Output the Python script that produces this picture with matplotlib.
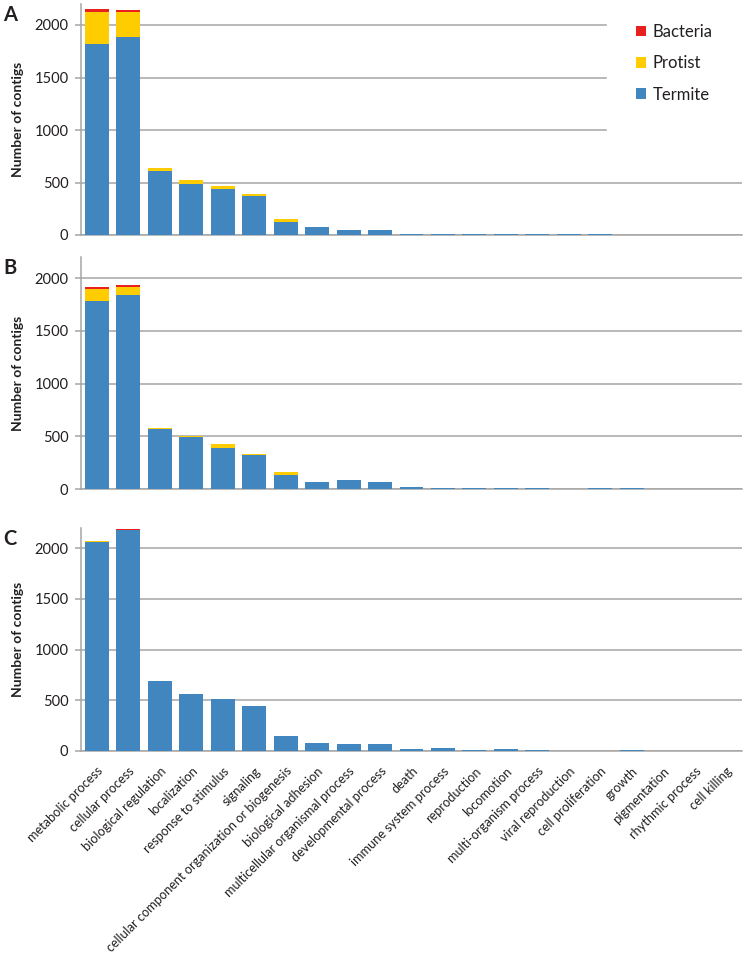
import matplotlib
matplotlib.use("Agg")
import matplotlib.pyplot as plt
import numpy as np

plt.rcParams['font.family'] = ['Lato', 'DejaVu Sans']

categories = ['metabolic process', 'cellular process', 'biological regulation', 'localization',
              'response to stimulus', 'signaling', 'cellular component organization or biogenesis',
              'biological adhesion', 'multicellular organismal process', 'developmental process',
              'death', 'immune system process', 'reproduction', 'locomotion', 'multi-organism process',
              'viral reproduction', 'cell proliferation', 'growth', 'pigmentation', 'rhythmic process',
              'cell killing']

series_names = ['Termite', 'Protist', 'Bacteria']

a_termite = [1820, 1885, 610, 490, 434, 374, 120, 76, 51, 44, 12, 9, 9, 8, 8, 6, 5, 4, 2, 2, 1]
a_protist = [305, 237, 25, 32, 35, 15, 35, 0, 0, 0, 0, 0, 0, 2, 0, 0, 0, 0, 0, 0, 0]
a_bacteria = [30, 22, 0, 0, 0, 0, 0, 0, 0, 0, 0, 0, 0, 0, 0, 0, 0, 0, 0, 0, 0]

b_termite = [1785, 1840, 565, 495, 391, 325, 136, 63, 82, 66, 22, 13, 10, 13, 10, 0, 13, 6, 0, 0, 0]
b_protist = [110, 78, 12, 5, 32, 6, 22, 0, 0, 0, 0, 0, 0, 0, 0, 0, 0, 0, 0, 0, 0]
b_bacteria = [25, 15, 0, 2, 0, 0, 0, 0, 0, 0, 0, 0, 0, 0, 0, 0, 0, 0, 0, 0, 0]

c_termite = [2065, 2180, 693, 565, 516, 443, 144, 82, 72, 66, 20, 26, 10, 16, 6, 0, 2, 5, 0, 0, 0]
c_protist = [5, 5, 0, 0, 0, 0, 0, 0, 0, 0, 0, 0, 0, 0, 0, 0, 0, 0, 0, 0, 0]
c_bacteria = [3, 3, 0, 0, 0, 0, 0, 0, 0, 0, 0, 0, 0, 0, 0, 0, 0, 0, 0, 0, 0]

panels = [('A', a_termite, a_protist, a_bacteria),
          ('B', b_termite, b_protist, b_bacteria),
          ('C', c_termite, c_protist, c_bacteria)]

colors = {'Termite': '#4186BF', 'Protist': '#FFCC00', 'Bacteria': '#E8201E'}
grid_color = '#A6A6A6'
text_color = '#231F20'

W, H = 751, 959
fig = plt.figure(figsize=(W / 100, H / 100), dpi=100)

# axes boxes in pixels: (left, top, right, bottom)
boxes = [(81, 4, 742, 235), (81, 257, 742, 489), (81, 528, 742, 751)]

x = np.arange(len(categories))
for i, ((letter, ter, pro, bac), (l, t, r, b)) in enumerate(zip(panels, boxes)):
    ax = fig.add_axes([l / W, 1 - b / H, (r - l) / W, (b - t) / H])
    ter = np.array(ter, float)
    pro = np.array(pro, float)
    bac = np.array(bac, float)
    h1 = ax.bar(x, ter, width=0.76, color=colors['Termite'], zorder=3, label='Termite')
    h2 = ax.bar(x, pro, bottom=ter, width=0.76, color=colors['Protist'], zorder=3, label='Protist')
    h3 = ax.bar(x, bac, bottom=ter + pro, width=0.76, color=colors['Bacteria'], zorder=3, label='Bacteria')
    ax.set_xlim(-0.5, len(categories) - 0.5)
    ax.set_ylim(0, 2200)
    ax.set_yticks([0, 500, 1000, 1500, 2000])
    ax.yaxis.grid(True, color=grid_color, linewidth=1.1, zorder=0)
    ax.set_axisbelow(True)
    for s in ['top', 'right']:
        ax.spines[s].set_visible(False)
    ax.spines['left'].set_color(grid_color)
    ax.spines['bottom'].set_color(grid_color)
    ax.spines['left'].set_linewidth(1.1)
    ax.spines['bottom'].set_linewidth(1.1)
    ax.tick_params(axis='y', length=4, color=grid_color, width=1.1, labelsize=10.5,
                   labelcolor=text_color, pad=5)
    ax.set_ylabel('Number of contigs', fontsize=10, fontweight='bold', color=text_color)
    ax.yaxis.set_label_coords(-0.086, 0.5)
    ax.set_xticks(x)
    if i < 2:
        ax.tick_params(axis='x', length=0, labelbottom=False)
    else:
        ax.set_xticklabels(categories, rotation=45, ha='right', rotation_mode='anchor',
                           fontsize=9.2, color=text_color)
        ax.tick_params(axis='x', length=0, pad=10)
    fig.text(3 / W, 1 - (t + 1) / H, letter, fontsize=14.5, fontweight='bold',
             color=text_color, ha='left', va='top')
    if i == 0:
        leg = ax.legend(handles=[h3, h2, h1], loc='upper right', bbox_to_anchor=(1.0, 1.04),
                        frameon=True, fontsize=12, handlelength=0.62, handleheight=0.62,
                        handletextpad=0.4, labelspacing=0.92, borderpad=1.75,
                        borderaxespad=0.0)
        leg.get_frame().set_facecolor('white')
        leg.get_frame().set_edgecolor('white')
        leg.get_frame().set_alpha(1)
        leg.get_frame().set_boxstyle('square', pad=0)
        for txt in leg.get_texts():
            txt.set_color(text_color)

fig.savefig('out.png', dpi=100)
